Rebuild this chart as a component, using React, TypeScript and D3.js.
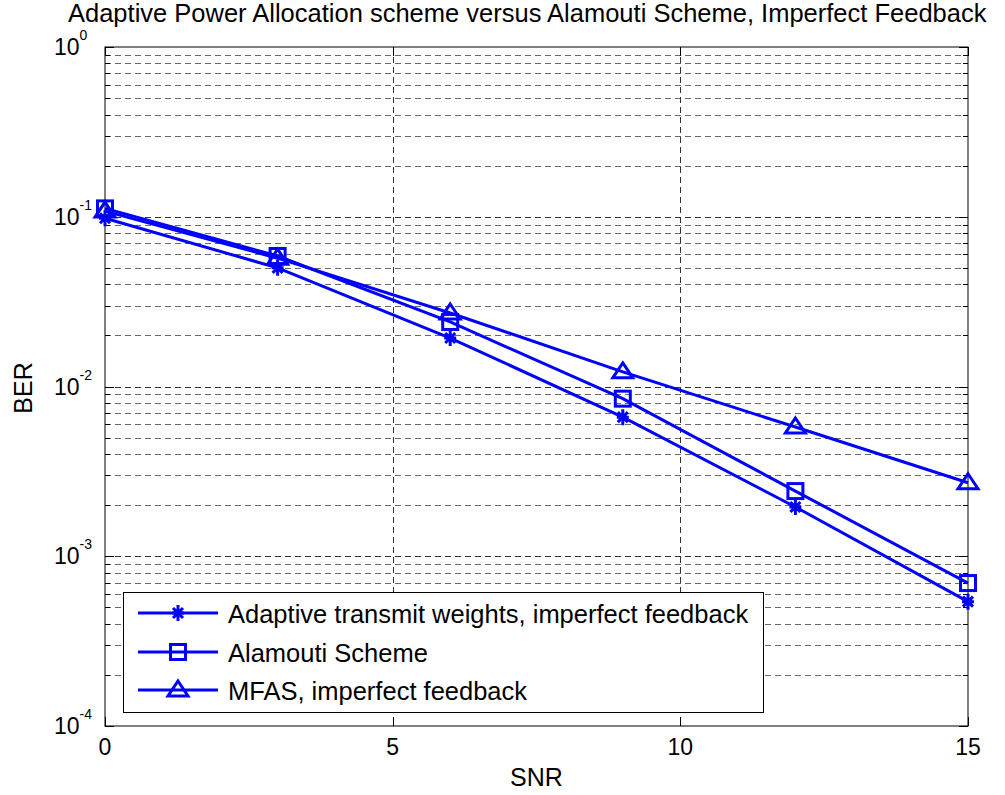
import React from "react";
import * as d3 from "d3";

const snr = [0, 3, 6, 9, 12, 15];
const adaptive = [0.098, 0.05, 0.0193, 0.0066, 0.00195, 0.00054];
const alamouti = [0.112, 0.0587, 0.024, 0.00848, 0.00242, 0.000695];
const mfas = [0.108, 0.057, 0.0271, 0.0122, 0.00577, 0.00271];
const xTicks = [0, 5, 10, 15];
const yDecades = [-4, -3, -2, -1, 0];
const seriesNames = [
  "Adaptive transmit weights, imperfect feedback",
  "Alamouti Scheme",
  "MFAS, imperfect feedback",
];
const title = "Adaptive Power Allocation scheme versus Alamouti Scheme, Imperfect Feedback";

const W = 1005, H = 795;
const L = 105, R = 968, T = 47, B = 726;
const FONT = "'Liberation Sans', Arial, sans-serif";
const BLUE = "#0000ff";

export default function App() {
  const x = d3.scaleLinear().domain([0, 15]).range([L, R]);
  const y = d3.scaleLog().domain([1e-4, 1]).range([B, T]);
  const line = d3.line<[number, number]>().x(d => x(d[0])).y(d => y(d[1]));
  const series = [adaptive, alamouti, mfas];

  const minor: number[] = [];
  for (let e = -4; e < 0; e++) for (let m = 2; m <= 9; m++) minor.push(m * Math.pow(10, e));

  const star = (cx: number, cy: number, k: string) => (
    <g key={k}>
      <path d={`M${cx - 6},${cy}L${cx + 6},${cy}M${cx},${cy - 8}L${cx},${cy + 8}M${cx - 5},${cy - 5}L${cx + 5},${cy + 5}M${cx - 5},${cy + 5}L${cx + 5},${cy - 5}`} stroke={BLUE} strokeWidth={3} />
    </g>
  );
  const square = (cx: number, cy: number, k: string) => (
    <rect key={k} x={cx - 7.5} y={cy - 7.5} width={15} height={15} fill="none" stroke={BLUE} strokeWidth={3} />
  );
  const tri = (cx: number, cy: number, k: string) => (
    <path key={k} d={`M${cx},${cy - 9}L${cx + 10},${cy + 6}L${cx - 10},${cy + 6}Z`} fill="none" stroke={BLUE} strokeWidth={3} />
  );
  const markers = [star, square, tri];

  const legX = 123, legY = 592, legW = 640, legH = 120;
  const rowY = [613, 652, 690];

  return (
    <svg width={W} height={H} style={{ position: "absolute", left: 0, top: 0, background: "#fff" }} fontFamily={FONT}>
      <rect x={0} y={0} width={W} height={H} fill="#fff" />
      {/* grid */}
      <g stroke="#000" strokeWidth={1} strokeDasharray="6,4" opacity={0.8}>
        {yDecades.slice(1, -1).map(e => (
          <line key={"gy" + e} x1={L} x2={R} y1={Math.round(y(Math.pow(10, e))) + 0.5} y2={Math.round(y(Math.pow(10, e))) + 0.5} />
        ))}
        {minor.map((v, i) => (
          <line key={"gm" + i} x1={L} x2={R} y1={Math.round(y(v)) + 0.5} y2={Math.round(y(v)) + 0.5} stroke="#444" />
        ))}
        {xTicks.slice(1, -1).map(t => (
          <line key={"gx" + t} x1={Math.round(x(t)) + 0.5} x2={Math.round(x(t)) + 0.5} y1={T} y2={B} />
        ))}
      </g>
      {/* axes box */}
      <rect x={L} y={T} width={R - L} height={B - T} fill="none" stroke="#000" strokeWidth={1} />
      {/* ticks */}
      <g stroke="#000" strokeWidth={1}>
        {yDecades.map(e => {
          const yy = Math.round(y(Math.pow(10, e))) + 0.5;
          return (
            <g key={"ty" + e}>
              <line x1={L} x2={L + 9} y1={yy} y2={yy} />
              <line x1={R} x2={R - 9} y1={yy} y2={yy} />
            </g>
          );
        })}
        {minor.map((v, i) => {
          const yy = Math.round(y(v)) + 0.5;
          return (
            <g key={"tm" + i}>
              <line x1={L} x2={L + 5} y1={yy} y2={yy} />
              <line x1={R} x2={R - 5} y1={yy} y2={yy} />
            </g>
          );
        })}
        {xTicks.map(t => {
          const xx = Math.round(x(t)) + 0.5;
          return (
            <g key={"tx" + t}>
              <line x1={xx} x2={xx} y1={B} y2={B - 9} />
              <line x1={xx} x2={xx} y1={T} y2={T + 9} />
            </g>
          );
        })}
      </g>
      {/* tick labels */}
      {xTicks.map(t => (
        <text key={"lx" + t} x={x(t)} y={755} fontSize={23} textAnchor="middle" fill="#000">{t}</text>
      ))}
      {yDecades.map(e => {
        const yy = y(Math.pow(10, e));
        return (
          <text key={"ly" + e} x={54} y={yy + 8} fontSize={23} fill="#000">
            10<tspan fontSize={14} dy={-15}>{e}</tspan>
          </text>
        );
      })}
      {/* series */}
      {series.map((s, i) => (
        <path key={"s" + i} d={line(snr.map((v, j) => [v, s[j]]) as [number, number][]) || ""} fill="none" stroke={BLUE} strokeWidth={3} />
      ))}
      {series.map((s, i) => snr.map((v, j) => markers[i](x(v), y(s[j]), `m${i}-${j}`)))}
      {/* legend */}
      <rect x={legX + 0.5} y={legY + 0.5} width={legW} height={legH} fill="#fff" stroke="#000" strokeWidth={1} />
      {seriesNames.map((n, i) => (
        <g key={"lg" + i}>
          <line x1={138} x2={218} y1={rowY[i]} y2={rowY[i]} stroke={BLUE} strokeWidth={3} />
          {markers[i](178, rowY[i], "lm" + i)}
          <text x={228} y={rowY[i] + 9.5} fontSize={25.5} fill="#000">{n}</text>
        </g>
      ))}
      {/* titles */}
      <text x={68} y={22} fontSize={25.5} fill="#000">{title}</text>
      <text x={(L + R) / 2} y={786} fontSize={25} textAnchor="middle" fill="#000">SNR</text>
      <text transform={`translate(32,388) rotate(-90)`} fontSize={25} textAnchor="middle" fill="#000">BER</text>
    </svg>
  );
}
